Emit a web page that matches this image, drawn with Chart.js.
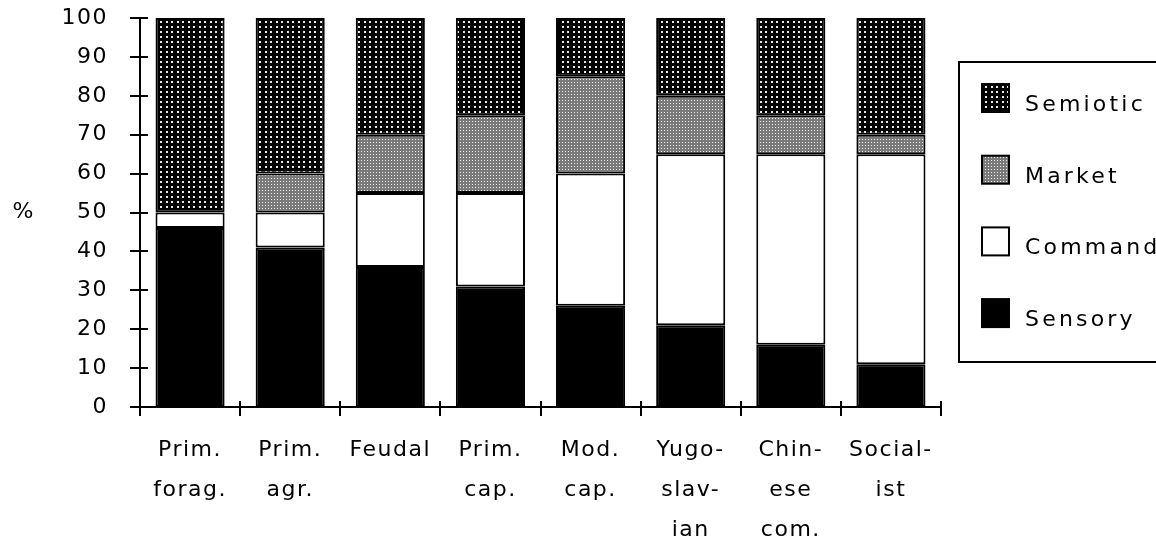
<!DOCTYPE html>
<html>
<head>
<meta charset="utf-8">
<style>
  html, body { margin: 0; padding: 0; background: #fff; }
  #wrap { width: 1156px; height: 544px; }
</style>
<script src="https://cdn.jsdelivr.net/npm/chart.js@4/dist/chart.umd.min.js"></script>
</head>
<body>
<div id="wrap"><canvas id="c" width="1156" height="544"></canvas></div>
<script>
// Share of each information type (%) by economic system
const categories = [
  ['Prim.', 'forag.'],
  ['Prim.', 'agr.'],
  ['Feudal'],
  ['Prim.', 'cap.'],
  ['Mod.', 'cap.'],
  ['Yugo-', 'slav-', 'ian'],
  ['Chin-', 'ese', 'com.'],
  ['Social-', 'ist']
];
const sensory  = [46, 41, 36, 31, 26, 21, 16, 11];
const command  = [4, 9, 19, 24, 34, 44, 49, 54];
const market   = [0, 10, 15, 20, 25, 15, 10, 5];
const semiotic = [50, 40, 30, 25, 15, 20, 25, 30];
const yTickValues = [0, 10, 20, 30, 40, 50, 60, 70, 80, 90, 100];
const seriesNames = ['Sensory', 'Command', 'Market', 'Semiotic'];
const yAxisTitle = '%';

const FONT = 'DejaVu Sans';
const canvas = document.getElementById('c');
const mainCtx = canvas.getContext('2d');

function makePattern(w, h, paint) {
  const tile = document.createElement('canvas');
  tile.width = w; tile.height = h;
  const g = tile.getContext('2d');
  paint(g);
  return mainCtx.createPattern(tile, 'repeat');
}

// black field with light dots
const dotsPattern = makePattern(11, 10, g => {
  g.fillStyle = '#000';
  g.fillRect(0, 0, 11, 10);
  g.fillStyle = '#e8e8e8';
  [[1, 1], [6, 1], [1, 6], [6, 6]].forEach(([px, py]) => g.fillRect(px, py, 2, 2));
});

// fine grey stipple
const greyPattern = makePattern(3, 3, g => {
  g.fillStyle = '#7a7a7a';
  g.fillRect(0, 0, 3, 3);
  g.fillStyle = '#efefef';
  g.fillRect(1, 1, 1, 1);
});

const fills = ['#000000', '#ffffff', greyPattern, dotsPattern];
const values = [sensory, command, market, semiotic];

Chart.defaults.font.family = FONT;
Chart.defaults.font.size = 22;
Chart.defaults.color = '#000';

// axis lines, crossing tick marks, the "%" title and the boxed legend
const decorations = {
  id: 'decorations',
  beforeDraw(chart) {
    chart.ctx.letterSpacing = '1.5px';
  },
  afterDraw(chart) {
    const { ctx, chartArea: { left, right, top, bottom }, scales: { x, y } } = chart;
    ctx.save();
    ctx.strokeStyle = '#000';
    ctx.lineWidth = 2;
    ctx.beginPath();
    ctx.moveTo(left, top);
    ctx.lineTo(left, bottom);
    ctx.moveTo(left - 10, bottom);
    ctx.lineTo(right, bottom);
    y.ticks.forEach(t => {
      const py = Math.round(y.getPixelForValue(t.value));
      ctx.moveTo(left - 10, py);
      ctx.lineTo(left + 8, py);
    });
    for (let i = 0; i <= categories.length; i++) {
      const px = Math.round(x.getPixelForValue(i - 0.5));
      ctx.moveTo(px, bottom - 6);
      ctx.lineTo(px, bottom + 9);
    }
    ctx.stroke();

    ctx.fillStyle = '#000';
    ctx.font = '22px "' + FONT + '"';
    ctx.letterSpacing = '0px';
    ctx.textAlign = 'center';
    ctx.textBaseline = 'middle';
    ctx.fillText(yAxisTitle, 23, y.getPixelForValue(50));

    // legend
    const boxLeft = 959, boxTop = 62, boxH = 300;
    ctx.strokeRect(boxLeft, boxTop, 230, boxH);
    const ds = chart.data.datasets.slice().reverse();
    ctx.font = '22px "' + FONT + '"';
    ctx.letterSpacing = '3.2px';
    ctx.textAlign = 'left';
    ctx.textBaseline = 'alphabetic';
    ds.forEach((d, i) => {
      const sy = 84 + i * 71.7;
      ctx.fillStyle = d.backgroundColor;
      ctx.fillRect(982, sy, 27, 28);
      ctx.strokeRect(982, sy, 27, 28);
      ctx.fillStyle = '#000';
      ctx.fillText(d.label, 1025, sy + 27);
    });
    ctx.restore();
  }
};

new Chart(canvas, {
  type: 'bar',
  data: {
    labels: categories,
    datasets: seriesNames.map((name, i) => ({
      label: name,
      data: values[i],
      backgroundColor: fills[i],
      borderColor: '#000',
      borderWidth: 2,
      borderSkipped: false,
      barPercentage: 0.69,
      categoryPercentage: 1.0
    }))
  },
  options: {
    responsive: false,
    animation: false,
    devicePixelRatio: 1,
    layout: { padding: { top: 18, right: 215, left: 0, bottom: 0 } },
    plugins: { legend: { display: false }, tooltip: { enabled: false } },
    scales: {
      x: {
        stacked: true,
        grid: { display: false, drawTicks: false, tickLength: 0 },
        border: { display: false },
        ticks: {
          padding: 23,
          maxRotation: 0,
          autoSkip: false,
          font: { size: 22, lineHeight: 40 / 22 }
        },
        afterFit(scale) {
          scale.height = 137;
          scale.paddingLeft = 0;
          scale.paddingRight = 0;
        }
      },
      y: {
        stacked: true,
        min: 0,
        max: 100,
        grid: { display: false, drawTicks: false, tickLength: 0 },
        border: { display: false },
        ticks: { padding: 32, font: { size: 22 } },
        afterBuildTicks(scale) { scale.ticks = yTickValues.map(v => ({ value: v })); },
        afterFit(scale) {
          scale.width = 140;
          scale.paddingTop = 0;
          scale.paddingBottom = 0;
        }
      }
    }
  },
  plugins: [decorations]
});
</script>
</body>
</html>
